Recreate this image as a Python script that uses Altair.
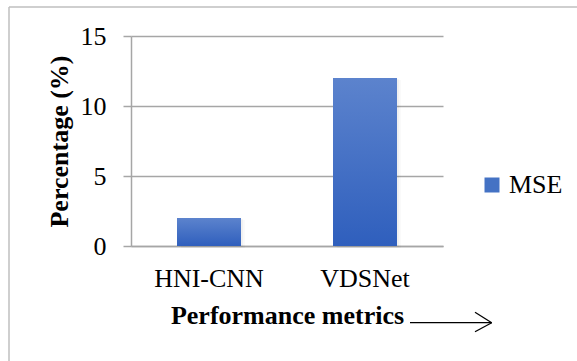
import altair as alt
import pandas as pd

# Values plotted
models = ["HNI-CNN", "VDSNet"]
mse = [2, 12]
series = ["MSE", "MSE"]

# Axis tick values
y_ticks = [0, 5, 10, 15]

df = pd.DataFrame({"model": models, "mse": mse, "series": series})

SERIF = "Liberation Serif"
GRID = "#a6a6a6"

W, H = 312, 210  # plot area size

x_enc = alt.X(
    "model:N",
    sort=models,
    scale=alt.Scale(paddingInner=0.59, paddingOuter=0.295),
    axis=alt.Axis(
        title="Performance metrics",
        titleFont=SERIF, titleFontSize=26, titleFontWeight="bold", titleColor="black",
        titleY=77, titleBaseline="alphabetic",
        labelFont=SERIF, labelFontSize=26, labelColor="black", labelAngle=0,
        labelPadding=19, ticks=False,
        domainColor=GRID, domainWidth=1.5,
    ),
)
y_enc = alt.Y(
    "mse:Q",
    scale=alt.Scale(domain=[0, 15], nice=False),
    axis=alt.Axis(
        values=y_ticks,
        title="Percentage (%)",
        titleFont=SERIF, titleFontSize=26, titleFontWeight="bold", titleColor="black",
        titleAngle=270, titleX=-64, titleY=H / 2, titleAlign="center",
        titleBaseline="alphabetic",
        labelFont=SERIF, labelFontSize=26, labelColor="black", labelPadding=17,
        tickSize=8, tickColor=GRID, tickWidth=1.5,
        gridColor=GRID, gridWidth=1.5,
        domainColor=GRID, domainWidth=1.5,
    ),
)

base = alt.Chart(df)

# Soft drop shadow to the right of each bar
shadow1 = base.mark_bar(color="#000000", opacity=0.035, xOffset=2, yOffset=1).encode(x=x_enc, y=y_enc)
shadow2 = base.mark_bar(color="#000000", opacity=0.025, xOffset=4, yOffset=2).encode(x=x_enc, y=y_enc)

# Flat bars carrying the legend
flat = base.mark_bar().encode(
    x=x_enc,
    y=y_enc,
    color=alt.Color(
        "series:N",
        scale=alt.Scale(range=["#4472c4"]),
        legend=alt.Legend(
            title=None, orient="none", legendX=348, legendY=136,
            symbolType="square", symbolSize=225, symbolStrokeWidth=0,
            labelFont=SERIF, labelFontSize=26, labelColor="black", labelOffset=4,
        ),
    ),
)

# Gradient fill on top
grad = alt.Gradient(
    gradient="linear",
    stops=[
        alt.GradientStop(color="#5c83cd", offset=0),
        alt.GradientStop(color="#2f5fbd", offset=1),
    ],
    x1=0, x2=0, y1=0, y2=1,
)
bars = base.mark_bar(fill=grad).encode(x=x_enc, y=y_enc)

one = pd.DataFrame({"k": [0]})

# Frame lines (top and left edges)
frame_top = alt.Chart(one).mark_rule(color="#bfbfbf", strokeWidth=1.5).encode(
    x=alt.value(-122), x2=alt.value(450), y=alt.value(-29)
)
frame_left = alt.Chart(one).mark_rule(color="#bfbfbf", strokeWidth=1.5).encode(
    x=alt.value(-122), y=alt.value(-29), y2=alt.value(330)
)

# Arrow next to the x-axis title
arrow_shaft = alt.Chart(one).mark_rule(color="black", strokeWidth=1.3).encode(
    x=alt.value(279), x2=alt.value(360.7), y=alt.value(286.7)
)
arrow_up = alt.Chart(one).mark_rule(color="black", strokeWidth=1.3).encode(
    x=alt.value(344), y=alt.value(276.3), x2=alt.value(360.7), y2=alt.value(286.7)
)
arrow_dn = alt.Chart(one).mark_rule(color="black", strokeWidth=1.3).encode(
    x=alt.value(344), y=alt.value(295.7), x2=alt.value(360.7), y2=alt.value(286.7)
)

chart = alt.layer(
    shadow2, shadow1, flat, bars,
    frame_top, frame_left, arrow_shaft, arrow_up, arrow_dn,
).properties(
    width=W, height=H,
    autosize=alt.AutoSizeParams(type="none"),
    padding={"left": 131, "top": 36, "right": 134, "bottom": 115},
    background="white",
).configure_view(stroke=None)

chart.save("out.html", embed_options={"renderer": "svg", "actions": False})
